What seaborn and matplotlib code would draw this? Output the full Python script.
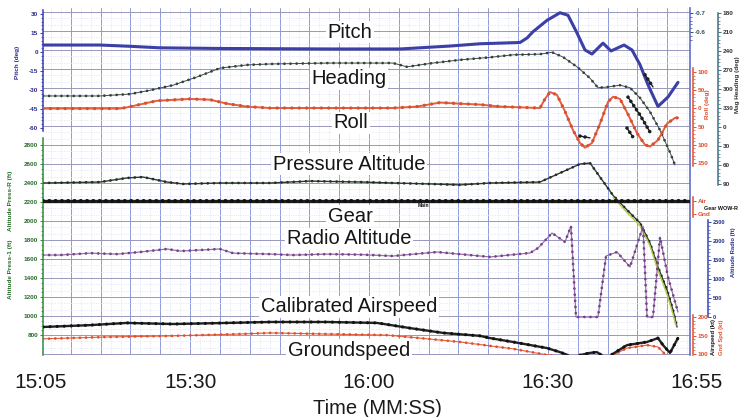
import numpy as np
import pandas as pd
import matplotlib
matplotlib.use("Agg")
import matplotlib.pyplot as plt
from matplotlib.ticker import FixedLocator, MultipleLocator
import seaborn as sns

# ---------------- data (time = seconds after 15:05) ----------------
time_ticks = [0, 25, 55, 85, 110]
time_labels = ["15:05", "15:30", "16:00", "16:30", "16:55"]

pitch_t = [0.34, 9.89, 14.92, 19.95, 30.02, 48.46, 60.2, 68.58, 73.61, 80.32, 81.49, 82.5, 84.85, 87.03,
           88.37, 89.88, 91.22, 92.39, 94.24, 95.58, 97.76, 99.1, 100.44, 101.79, 103.46, 105.14, 106.81]
pitch_deg = [5.5, 5.5, 4.5, 3.3, 2.8, 2.4, 2.4, 4.7, 6.5, 7.5, 11, 16, 25, 31,
             29, 15, 1.6, -1.6, 7, 0.8, 5.5, 1.6, -10, -26, -43, -35.5, -24]

heading_t = [0.34, 9.89, 14.92, 18.28, 22.13, 26.16, 30.02, 34.54, 38.4, 48.46, 59.02, 61.37, 65.73, 70.26,
             75.29, 79.15, 83.67, 85.69, 87.53, 89.88, 92.06, 93.4, 94.91, 97.09, 98.77, 100.44, 102.12,
             103.8, 105.47, 106.31]
heading_deg = [311, 311, 308, 302, 294, 281, 267, 262, 260.5, 259, 259, 265, 259, 254,
               250, 246, 245, 242, 249.5, 265, 283, 298, 297, 294, 298, 314, 336,
               365, 400, 420]

roll_t = [0.34, 13.25, 14.42, 19.45, 24.98, 28.34, 31.19, 34.54, 38.4, 59.02, 63.05, 66.91, 70.26, 73.61,
          76.97, 83.67, 84.51, 85.35, 86.52, 87.86, 89.21, 90.38, 91.22, 92.39, 93.73, 95.08, 95.92,
          97.09, 98.43, 99.94, 101.28, 102.12, 103.46, 104.97, 106.31, 106.81]
roll_deg = [0.5, 0.5, -3, -21, -26, -24, -13, -5, -1, -1, -5, -16, -13, -10.5,
            -5, -1, -26, -45, -37, 8, 60, 95, 108, 95, 42, -18, -32,
            -26, 16, 68, 100, 105, 87, 42, 26, 26]
roll_tick_labels = ["100", "50", "0", "50", "100", "150"]

palt_t = [0.34, 9.89, 14.42, 17.1, 21.13, 23.81, 30.02, 38.4, 45.11, 53.99, 59.02, 65.23, 70.26, 75.29,
          83.67, 87.03, 90.38, 92.06, 93.73, 95.92, 98.26, 100.44, 102.12, 103.46, 104.97, 105.98, 106.65]
palt_ft = [2400, 2410, 2453, 2463, 2410, 2390, 2400, 2400, 2420, 2410, 2400, 2390, 2380, 2400,
           2410, 2505, 2600, 2610, 2463, 2270, 2116, 1980, 1768, 1516, 1274, 1063, 884]

pressr_t = [95.92, 98.26, 100.44, 102.12, 103.46, 104.97, 105.98, 106.48]
pressr_ft = [2250, 2090, 1950, 1740, 1480, 1230, 1020, 900]

gear_t = [0.34, 108.8]
gear_state = [1, 1]
gear_labels = ["Gnd", "Air"]

ra_t = [0.34, 3.19, 8.22, 12.74, 16.6, 21.13, 23.31, 30.02, 32.2, 38.4, 42.26, 47.96, 53.99, 59.02,
        66.4, 73.61, 75.29, 82.0, 83.34, 85.69, 87.86, 88.87, 89.71, 90.72, 91.72, 92.56, 93.4,
        94.74, 96.59, 98.77, 100.95, 101.62, 102.62, 103.8, 105.14, 106.81]
ra_ft = [1630, 1630, 1680, 1655, 1710, 1790, 1735, 1790, 1680, 1655, 1630, 1655, 1640, 1605,
         1710, 1605, 1580, 1685, 1815, 2210, 1975, 2390, 0, 0, 0, 0, 0,
         1605, 1710, 1315, 2390, 0, 0, 2105, 1050, 130]

cas_t = [0.34, 8.22, 14.42, 22.13, 31.19, 38.4, 47.96, 56.34, 61.88, 67.41, 73.61, 75.29, 79.15, 84.85,
         87.03, 88.37, 89.0, 90.38, 92.06, 93.23, 94.07, 95.0, 95.75, 98.26, 101.62, 103.46, 104.3,
         105.47, 106.81]
cas_kt = [173, 178, 184, 181, 184, 186.5, 186.5, 184, 170, 157, 149, 143, 132.5, 116,
          105, 97, np.nan, 97, 103, 105, 96, np.nan, 99, 124, 132.5, 143, 124,
          103, 143]

gs_t = [0.34, 11.07, 22.13, 33.37, 38.4, 47.96, 58.02, 63.55, 70.26, 75.29, 79.15, 84.85, 87.53, 90.0,
        95.92, 98.26, 101.62, 103.46, 104.97]
gs_kt = [141, 146, 149, 154, 157, 154, 151, 143, 132.5, 122, 114, 97.5, 92, np.nan,
         97, 116, 124, 119, 94]

pitch_aux_t = [101.28, 102.62]
pitch_aux_deg = [-18, -27.6]
roll_aux_t = [90.38, 92.06, np.nan, 98.26, 99.27, np.nan, 98.43, 100.44, 102.12]
roll_aux_deg = [76, 81, np.nan, 54, 79, np.nan, -31, 18, 65]

accel_ticks = [-0.7, -0.6]

series_names = ["Pitch", "Heading", "Roll", "Pressure Altitude", "Gear",
                "Radio Altitude", "Calibrated Airspeed", "Groundspeed"]

# ---------------- layout ----------------
sns.set_style("white")
plt.rcParams["font.family"] = ["Liberation Sans", "DejaVu Sans"]

W, H = 741, 417
L, R, T, B = 43, 690, 8, 355
fig = plt.figure(figsize=(W / 100, H / 100), dpi=100)
fig.patch.set_facecolor("white")
rect = [L / W, 1 - B / H, (R - L) / W, (B - T) / H]

LAB_L, LAB_R = 41, 697
PX_PER_S = (LAB_R - LAB_L) / (time_ticks[-1] - time_ticks[0])
x0 = (L - LAB_L) / PX_PER_S
x1 = (R - LAB_L) / PX_PER_S


def lim_from(v1, y1, v2, y2):
    s = (v2 - v1) / (y2 - y1)
    return v1 + (B - y1) * s, v1 + (T - y1) * s


def frame(t, v):
    d = pd.DataFrame({"t": t, "v": v})
    d["seg"] = d["v"].isna().cumsum()
    return d.dropna()


def draw(a, t, v, color, lw, dots=None, dot_color=None, gap=2.2):
    d = frame(t, v)
    sns.lineplot(data=d, x="t", y="v", units="seg", estimator=None, ax=a,
                 color=color, lw=lw, legend=False)
    if dots:
        sns.lineplot(data=d, x="t", y="v", units="seg", estimator=None, ax=a,
                     color=dot_color or color, lw=dots, legend=False,
                     linestyle=(0, (0.01, gap)), dash_capstyle="round")
    a.set_xlabel("")
    a.set_ylabel("")


ax = fig.add_axes(rect)
alt_lim = lim_from(2800, 145, 800, 335)
ax.set_ylim(*alt_lim)
ax.xaxis.set_major_locator(MultipleLocator(5))
ax.xaxis.set_minor_locator(MultipleLocator(5 / 3))
ax.yaxis.set_major_locator(MultipleLocator(200))
ax.yaxis.set_minor_locator(MultipleLocator(200 / 3))
ax.grid(True, which="minor", color="#d9ddf4", lw=0.5, ls=(0, (1.5, 1.8)))
ax.grid(True, which="major", axis="x", color="#8d99dd", lw=0.7)
ax.grid(True, which="major", axis="y", color="#9a98bb", lw=0.7)
ax.tick_params(which="both", length=0, labelleft=False, labelbottom=False)
for s in ["top", "bottom", "left"]:
    ax.spines[s].set_visible(False)
ax.spines["right"].set_color("#5d6fd0")
ax.spines["right"].set_linewidth(1.2)
ax.set_axisbelow(True)


def overlay(ylim):
    a = fig.add_axes(rect, sharex=ax)
    a.set_ylim(*ylim)
    a.patch.set_visible(False)
    for s in a.spines.values():
        s.set_visible(False)
    a.tick_params(axis="x", which="both", bottom=False, labelbottom=False)
    a.grid(False)
    a.yaxis.set_visible(False)
    return a


def side_axis(a, side, outward_px, bounds, ticks, labels, color, minor=None,
              spine_color=None, fs=4.6, show_spine=True):
    a.yaxis.set_visible(True)
    sp = a.spines[side]
    sp.set_visible(show_spine)
    sp.set_position(("outward", outward_px * 72 / 100))
    sp.set_bounds(*bounds)
    sp.set_color(spine_color or color)
    sp.set_linewidth(1.1)
    a.yaxis.set_ticks_position(side)
    a.set_yticks(ticks, labels=labels, fontsize=fs, fontweight="bold", color=color)
    if minor is not None:
        a.yaxis.set_minor_locator(FixedLocator(minor))
    a.tick_params(axis="y", which="major", length=2.5, width=0.7,
                  color=spine_color or color, pad=1)
    a.tick_params(axis="y", which="minor", length=1.3, width=0.5,
                  color=spine_color or color)


RED = "#e0502d"

# pressure altitude (left, green)
aa = overlay(alt_lim)
draw(aa, palt_t, palt_ft, "#2e3b2e", 1.0, dots=2.0, dot_color="#243024")
draw(aa, pressr_t, pressr_ft, "#b6c84a", 1.0)
aa.set_ylim(*alt_lim)
alt_ticks = list(range(800, 2801, 200))
side_axis(aa, "left", 0, (alt_lim[0], 2870), alt_ticks, [str(v) for v in alt_ticks],
          "#2b6b2b", minor=np.arange(800, 2801, 50), spine_color="#2f8a3a")

# pitch (left, blue)
pitch_lim = lim_from(30, 14, -60, 128)
ap = overlay(pitch_lim)
draw(ap, pitch_t, pitch_deg, "#3b3fa6", 2.2)
draw(ap, pitch_aux_t, pitch_aux_deg, "#1e1e1e", 1.0, dots=2.6, gap=1.4)
ap.set_ylim(*pitch_lim)
pt = [-60, -45, -30, -15, 0, 15, 30]
side_axis(ap, "left", 0, (-62, 33), pt, [str(v) for v in pt], "#2b2b8f",
          minor=np.arange(-60, 31, 3), spine_color="#3a3ab8")

# heading (right)
head_lim = lim_from(180, 13, 450, 184)
ah = overlay(head_lim)
draw(ah, heading_t, heading_deg, "#3f4f45", 0.7, dots=2.0, dot_color="#34423a")
ah.set_ylim(*head_lim)
ht = list(range(180, 451, 30))
side_axis(ah, "right", 28, (180, 452), ht, [str(v % 360) for v in ht], "#333333",
          minor=np.arange(180, 451, 6), spine_color="#3f6f80")

# roll (right, red)
roll_lim = lim_from(-100, 72, 150, 163)
ar = overlay(roll_lim)
draw(ar, roll_t, roll_deg, "#e0603f", 1.4, dots=2.4, dot_color="#d8502f")
draw(ar, roll_aux_t, roll_aux_deg, "#1e1e1e", 1.0, dots=2.6, gap=1.4)
ar.set_ylim(*roll_lim)
side_axis(ar, "right", 3, (-110, 158), [-100, -50, 0, 50, 100, 150], roll_tick_labels, RED,
          minor=np.arange(-100, 151, 10))

# gear (right, red)
gear_lim = lim_from(1, 201, 0, 214)
ag = overlay(gear_lim)
draw(ag, gear_t, gear_state, "#1e1e1e", 2.4, dots=3.0, dot_color="#111111", gap=1.5)
ag.set_ylim(*gear_lim)
side_axis(ag, "right", 3, (-0.25, 1.3), [0, 1], gear_labels, RED)

# radio altitude (right, blue)
ra_lim = lim_from(2500, 222, 0, 317)
ara = overlay(ra_lim)
draw(ara, ra_t, ra_ft, "#a368b5", 0.9, dots=2.0, dot_color="#6b4a7e")
ara.set_ylim(*ra_lim)
rat = list(range(0, 2501, 500))
side_axis(ara, "right", 18, (0, 2560), rat, [str(v) for v in rat], "#23308a",
          minor=np.arange(0, 2501, 100), spine_color="#3545b5", fs=4.1)

# speeds (right, red)
sp_lim = lim_from(200, 317, 100, 354)
asp = overlay(sp_lim)
draw(asp, gs_t, gs_kt, "#e2603c", 0.8, dots=2.0, dot_color="#e05030")
draw(asp, cas_t, cas_kt, "#222222", 1.7, dots=2.3, dot_color="#111111")
asp.set_ylim(*sp_lim)
side_axis(asp, "right", 3, (97, 205), [100, 150, 200], ["100", "150", "200"], RED,
          minor=np.arange(100, 201, 10))

# accel labels top right
acc_lim = lim_from(-0.7, 13, -0.6, 32)
aac = overlay(acc_lim)
side_axis(aac, "right", 0, (-0.72, -0.58), accel_ticks, ["-0.7", "-0.6"], "#2f4f5f",
          minor=np.arange(-0.7, -0.55, 0.02), show_spine=False)

ax.set_xlim(x0, x1)

# time labels axis
axl = fig.add_axes([LAB_L / W, 1 - B / H, (LAB_R - LAB_L) / W, 0.0001])
axl.set_xlim(time_ticks[0], time_ticks[-1])
axl.set_xticks(time_ticks, labels=time_labels, fontsize=15, color="#1a1a1a")
axl.tick_params(axis="x", length=0, pad=13)
axl.set_yticks([])
axl.patch.set_visible(False)
for s in axl.spines.values():
    s.set_visible(False)
fig.text(377 / W, 1 - 408 / H, "Time (MM:SS)", ha="center", va="center",
         fontsize=14.5, color="#1a1a1a")

# series labels inside plot
label_pos = [(350, 32), (349, 79), (351, 123), (349, 164), (350, 216),
             (349, 239), (349, 307), (349, 350)]
for name, (px, py) in zip(series_names, label_pos):
    fig.text(px / W, 1 - py / H, name, ha="center", va="center", fontsize=14.5,
             color="#151515",
             bbox=dict(facecolor="white", edgecolor="none", pad=1.2))


# axis titles
def side_text(x, y, s, color, fs=4.6, rot=90, ha="center"):
    fig.text(x / W, 1 - y / H, s, rotation=rot, color=color, fontsize=fs,
             fontweight="bold", ha=ha, va="center")


side_text(17, 62, "Pitch (deg)", "#2b2b8f")
side_text(11, 235, "Altitude Press-1 (ft)     Altitude Press-R (ft)", "#2b6b2b")
side_text(708, 104, "Roll (deg)", RED)
side_text(737, 85, "Mag Heading (deg)", "#333333")
side_text(733, 252, "Altitude Radio (ft)", "#23308a", fs=4.2)
side_text(713, 337, "Airspeed (kt)", "#111111", fs=4.2)
side_text(722, 337, "Gnd Spd (kt)", RED, fs=4.2)
side_text(704, 208, "Gear WOW-R", "#111111", fs=3.9, rot=0, ha="left")
side_text(423, 205, "Main", "#111111", fs=3.6, rot=0)

fig.savefig("out.png", dpi=100)
